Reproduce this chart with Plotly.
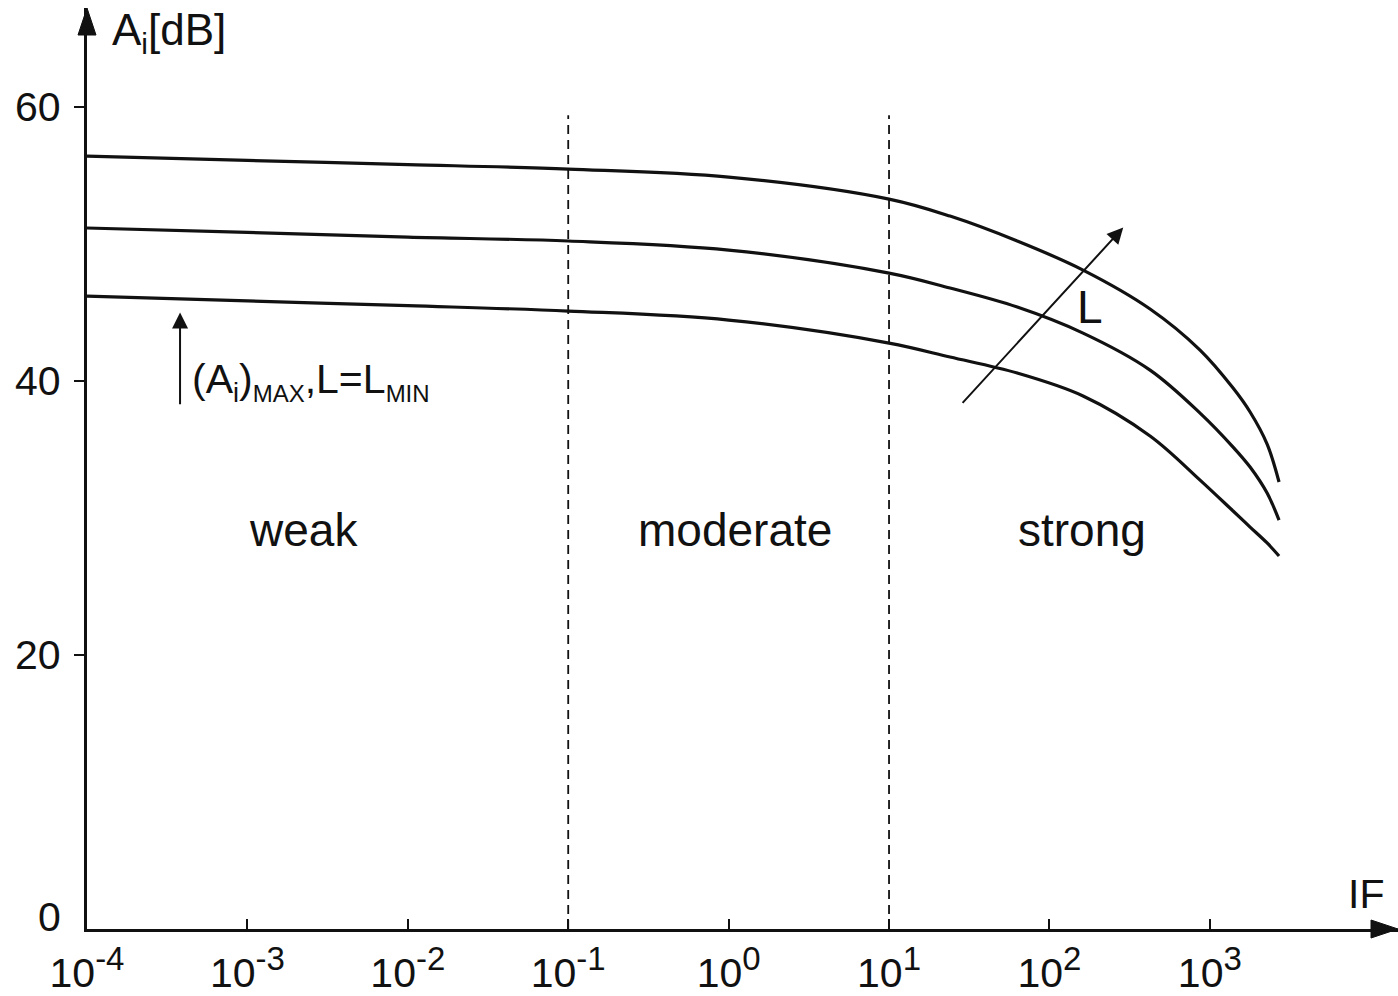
import numpy as np
import plotly.graph_objects as go

# ---------------- data ----------------
IF = [1e-4, 1e-3, 1e-2, 1e-1, 1, 10, 24, 63, 162, 424, 869, 1396, 1782, 2275, 2700]
AI_TOP = [56.42, 56.1, 55.8, 55.47, 54.89, 53.28, 52.04, 50.22, 48.10, 45.26,
          42.26, 39.49, 37.74, 35.40, 32.63]
AI_MID = [51.17, 50.85, 50.5, 50.22, 49.56, 47.88, 46.79, 45.40, 43.50, 40.80,
          37.66, 35.18, 33.72, 31.82, 29.85]
AI_BOT = [46.20, 45.85, 45.5, 45.11, 44.45, 42.77, 41.75, 40.58, 38.91, 35.99,
          32.77, 30.51, 29.34, 28.18, 27.23]

X_TICKS = [1e-4, 1e-3, 1e-2, 1e-1, 1e0, 1e1, 1e2, 1e3]
X_TICK_EXP = [-4, -3, -2, -1, 0, 1, 2, 3]
Y_TICKS = [0, 20, 40, 60]

REGION_BOUNDS = [1e-1, 1e1]
REGION_TOP = 59.4
REGION_LABELS = ["weak", "moderate", "strong"]
REGION_X = [10 ** -2.65, 10 ** 0.04, 10 ** 2.2]
REGION_Y = 29.1

L_ARROW_TAIL = (10 ** 1.45, 38.3)
L_ARROW_TIP = (10 ** 2.46, 51.2)
L_LABEL = (10 ** 2.25, 45.4)
MIN_ARROW_TAIL = (10 ** -3.42, 38.2)
MIN_ARROW_TIP = (10 ** -3.42, 45.0)
MIN_LABEL = (10 ** -3.36, 39.9)

FONT = "Liberation Sans, Arial, sans-serif"
BLACK = "#111111"

fig = go.Figure()

for ys in (AI_TOP, AI_MID, AI_BOT):
    fig.add_trace(go.Scatter(x=IF, y=ys, mode="lines",
                             line=dict(color=BLACK, width=3.2, shape="spline", smoothing=1.0),
                             hoverinfo="skip"))

for xb in REGION_BOUNDS:
    fig.add_trace(go.Scatter(x=[xb, xb], y=[0, REGION_TOP], mode="lines",
                             line=dict(color=BLACK, width=1.8, dash="9px,6px"),
                             hoverinfo="skip"))

ann = []
# y tick labels
for v in Y_TICKS:
    ann.append(dict(x=0, xref="paper", y=v, yref="y", text=str(v), showarrow=False,
                    xanchor="right", yanchor="middle", xshift=-24,
                    yshift=12 if v == 0 else 0,
                    font=dict(family=FONT, size=41, color=BLACK)))
# axis titles
ann.append(dict(x=0, xref="paper", y=1, yref="paper",
                text="A<sub><span style='font-size:30px'>i</span></sub>[dB]",
                showarrow=False, xanchor="left", yanchor="middle", xshift=23, yshift=-24,
                font=dict(family=FONT, size=44, color=BLACK)))
ann.append(dict(x=1, xref="paper", y=0, yref="paper", text="IF",
                showarrow=False, xanchor="right", yanchor="middle", xshift=-12, yshift=35,
                font=dict(family=FONT, size=41, color=BLACK)))
# region labels
for lab, xv in zip(REGION_LABELS, REGION_X):
    ann.append(dict(x=np.log10(xv), xref="x", y=REGION_Y, yref="y", text=lab,
                    showarrow=False, xanchor="center", yanchor="middle",
                    font=dict(family=FONT, size=46, color=BLACK)))
# L arrow
ann.append(dict(x=np.log10(L_ARROW_TIP[0]), y=L_ARROW_TIP[1], xref="x", yref="y",
                ax=np.log10(L_ARROW_TAIL[0]), ay=L_ARROW_TAIL[1], axref="x", ayref="y",
                text="", showarrow=True, arrowhead=2, arrowsize=1.6, arrowwidth=2,
                arrowcolor=BLACK, standoff=0))
ann.append(dict(x=np.log10(L_LABEL[0]), y=L_LABEL[1], xref="x", yref="y", text="L",
                showarrow=False, xanchor="center", yanchor="middle",
                font=dict(family=FONT, size=46, color=BLACK)))
# min arrow
ann.append(dict(x=np.log10(MIN_ARROW_TIP[0]), y=MIN_ARROW_TIP[1], xref="x", yref="y",
                ax=np.log10(MIN_ARROW_TAIL[0]), ay=MIN_ARROW_TAIL[1], axref="x", ayref="y",
                text="", showarrow=True, arrowhead=2, arrowsize=1.6, arrowwidth=2,
                arrowcolor=BLACK, standoff=0))
ann.append(dict(x=np.log10(MIN_LABEL[0]), y=MIN_LABEL[1], xref="x", yref="y",
                text=("(A<sub><span style='font-size:27px'>i</span></sub>)"
                      "<sub><span style='font-size:24px'>MAX</span></sub>,L=L"
                      "<sub><span style='font-size:24px'>MIN</span></sub>"),
                showarrow=False, xanchor="left", yanchor="middle",
                font=dict(family=FONT, size=41, color=BLACK)))

shapes = [
    # y axis arrowhead
    dict(type="path", xref="paper", yref="paper", xsizemode="pixel", ysizemode="pixel",
         xanchor=0, yanchor=1, path="M0,0 L-9,-27 L9,-27 Z",
         fillcolor=BLACK, line=dict(color=BLACK, width=1)),
    # x axis arrowhead
    dict(type="path", xref="paper", yref="paper", xsizemode="pixel", ysizemode="pixel",
         xanchor=1, yanchor=0, path="M0,0 L-27,9 L-27,-9 Z",
         fillcolor=BLACK, line=dict(color=BLACK, width=1)),
]

fig.update_layout(
    width=1398, height=996,
    margin=dict(l=87, r=0, t=8, b=67, pad=0),
    paper_bgcolor="white", plot_bgcolor="white",
    showlegend=False,
    annotations=ann, shapes=shapes,
    xaxis=dict(type="log", range=[-4, 4.173], showline=True, linewidth=2.5, linecolor=BLACK,
               ticks="inside", ticklen=10, tickwidth=2, tickcolor=BLACK,
               tickvals=X_TICKS,
               ticktext=[f"10<sup><span style='font-size:33px'>{e}</span></sup>" for e in X_TICK_EXP],
               tickfont=dict(family=FONT, size=41, color=BLACK),
               ticklabelstandoff=6,
               showgrid=False, zeroline=False),
    yaxis=dict(range=[0, 67.23], showline=True, linewidth=2.5, linecolor=BLACK,
               ticks="outside", ticklen=10, tickwidth=2, tickcolor=BLACK,
               tickvals=Y_TICKS[1:], showticklabels=False,
               showgrid=False, zeroline=False),
)

fig.write_html("out.html")
